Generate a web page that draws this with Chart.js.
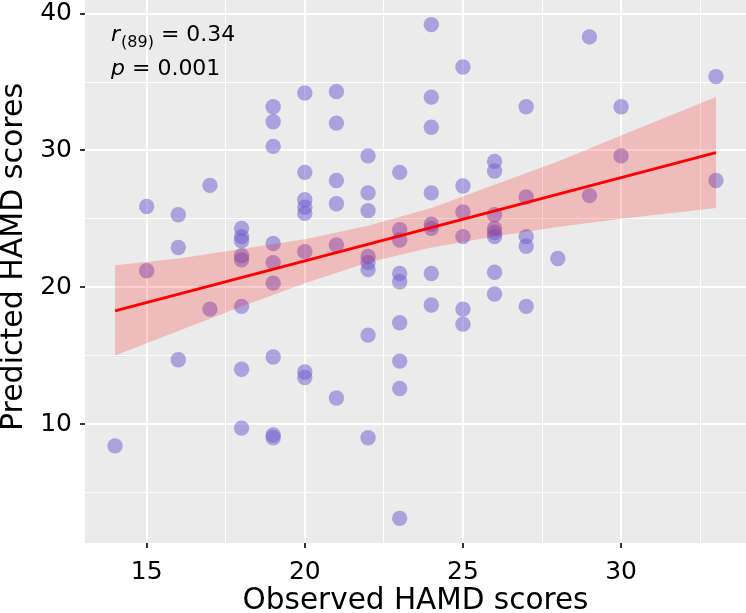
<!DOCTYPE html>
<html>
<head>
<meta charset="utf-8">
<script src="https://cdn.jsdelivr.net/npm/chart.js@4.4.1/dist/chart.umd.min.js"></script>
<style>
  body { margin: 0; background: #fff; }
  .chart-box { width: 746px; height: 613px; }
</style>
</head>
<body>
<div class="chart-box"><canvas id="myChart"></canvas></div>
<script>
// observed vs predicted HAMD, one entry per subject
const observedScores = [
  14,
  15, 15,
  16, 16, 16,
  17, 17,
  18, 18, 18, 18, 18, 18, 18, 18,
  19, 19, 19, 19, 19, 19, 19, 19, 19,
  20, 20, 20, 20, 20, 20, 20, 20,
  21, 21, 21, 21, 21, 21,
  22, 22, 22, 22, 22, 22, 22, 22,
  23, 23, 23, 23, 23, 23, 23, 23, 23,
  24, 24, 24, 24, 24, 24, 24, 24,
  25, 25, 25, 25, 25, 25,
  26, 26, 26, 26, 26, 26, 26, 26,
  27, 27, 27, 27, 27,
  28,
  29, 29,
  30, 30,
  33, 33,
];
const predictedScores = [
  8.4,
  25.9, 21.2,
  25.3, 22.9, 14.7,
  27.45, 18.4,
  24.3, 23.7, 23.4, 22.3, 22.0, 18.6, 14.0, 9.7,
  33.2, 32.1, 30.3, 23.2, 21.8, 20.3, 14.9, 9.2, 9.0,
  34.2, 28.4, 26.4, 25.85, 25.4, 22.6, 13.8, 13.4,
  34.3, 32.0, 27.8, 26.1, 23.1, 11.9,
  29.6, 26.9, 25.6, 22.25, 21.8, 21.3, 16.5, 9.0,
  28.4, 24.2, 23.45, 21.0, 20.4, 17.4, 14.6, 12.6, 3.1,
  39.2, 33.9, 31.7, 26.9, 24.6, 24.3, 21.0, 18.7,
  36.1, 27.4, 25.5, 23.7, 18.4, 17.3,
  29.2, 28.5, 25.3, 24.3, 24.0, 23.7, 21.1, 19.5,
  33.2, 26.6, 23.7, 23.0, 18.6,
  22.1,
  38.3, 26.7,
  33.2, 29.6,
  35.4, 27.8,
];

// fitted line and its confidence band
const fitX = [14, 33];
const fitY = [18.27, 29.84];
const bandX = [14, 16, 18, 20, 22, 24, 26, 28, 30, 33];
const bandLower = [15.0, 16.8, 18.6, 20.3, 21.8, 22.9, 23.7, 24.4, 25.0, 25.8];
const bandUpper = [21.6, 22.1, 22.8, 23.5, 24.5, 25.8, 27.5, 29.2, 31.1, 33.9];

// axes
const xGridValues = [15, 17.5, 20, 22.5, 25, 27.5, 30, 32.5];
const xTickLabels = [15, 20, 25, 30];
const yGridValues = [5, 10, 15, 20, 25, 30, 35, 40];
const yTickLabels = [10, 20, 30, 40];
const yTitle = "Predicted HAMD scores";

const FONT = "'DejaVu Sans', sans-serif";

const toPoints = (xs, ys) => xs.map((x, i) => ({ x: x, y: ys[i] }));

// gray panel behind everything
const panelBg = {
  id: "panelBg",
  beforeDraw(chart) {
    const { ctx, chartArea } = chart;
    ctx.save();
    ctx.fillStyle = "#EBEBEB";
    ctx.fillRect(chartArea.left, chartArea.top, chartArea.width, chartArea.height);
    ctx.restore();
  },
};

// r(89) = 0.34 / p = 0.001, plus the y title (sits a bit above centre in the original)
const textLayer = {
  id: "textLayer",
  afterDraw(chart) {
    const ctx = chart.ctx;
    ctx.save();
    ctx.fillStyle = "#000";
    ctx.textBaseline = "alphabetic";
    let x = 111;
    ctx.font = "italic 22px " + FONT;
    ctx.fillText("r", x, 41);
    x += ctx.measureText("r").width + 1;
    ctx.font = "16px " + FONT;
    ctx.fillText("(89)", x, 47);
    x += ctx.measureText("(89)").width;
    ctx.font = "22px " + FONT;
    ctx.fillText(" = 0.34", x, 41);

    x = 111;
    ctx.font = "italic 22px " + FONT;
    ctx.fillText("p", x, 75);
    x += ctx.measureText("p").width;
    ctx.font = "22px " + FONT;
    ctx.fillText(" = 0.001", x, 75);

    ctx.translate(14, 257);
    ctx.rotate(-Math.PI / 2);
    ctx.font = "30px " + FONT;
    ctx.textAlign = "center";
    ctx.textBaseline = "middle";
    ctx.fillText(yTitle, 0, 0);
    ctx.restore();
  },
};

function isMajor(list, value) {
  return list.some((v) => Math.abs(v - value) < 1e-6);
}

function noPadding(scale) {
  scale.paddingTop = 0;
  scale.paddingBottom = 0;
  scale.paddingLeft = 0;
  scale.paddingRight = 0;
}

const ctx = document.getElementById("myChart").getContext("2d");

new Chart(ctx, {
  type: "scatter",
  data: {
    datasets: [
      {
        type: "line",
        data: toPoints(fitX, fitY),
        borderColor: "#FF0000",
        borderWidth: 3,
        pointRadius: 0,
        showLine: true,
        fill: false,
      },
      {
        type: "line",
        data: toPoints(bandX, bandUpper),
        borderWidth: 0,
        borderColor: "rgba(0,0,0,0)",
        backgroundColor: "rgba(255, 0, 0, 0.2)",
        pointRadius: 0,
        showLine: true,
        fill: "+1",
      },
      {
        type: "line",
        data: toPoints(bandX, bandLower),
        borderWidth: 0,
        borderColor: "rgba(0,0,0,0)",
        pointRadius: 0,
        showLine: true,
        fill: false,
      },
      {
        type: "scatter",
        data: toPoints(observedScores, predictedScores),
        backgroundColor: "rgba(106, 90, 205, 0.5)",
        borderWidth: 0,
        pointRadius: 7.7,
        pointHoverRadius: 7.7,
      },
    ],
  },
  options: {
    responsive: true,
    maintainAspectRatio: false,
    animation: false,
    layout: { padding: 0, autoPadding: false },
    plugins: {
      legend: { display: false },
      tooltip: { enabled: false },
    },
    scales: {
      x: {
        type: "linear",
        min: 13.05,
        max: 33.95,
        afterBuildTicks: (scale) => {
          scale.ticks = xGridValues.map((v) => ({ value: v }));
        },
        afterFit: (scale) => {
          scale.height = 70;
          noPadding(scale);
        },
        border: { display: false },
        grid: {
          color: "#FFFFFF",
          lineWidth: (c) => (isMajor(xTickLabels, c.tick.value) ? 2 : 1),
          tickColor: (c) => (isMajor(xTickLabels, c.tick.value) ? "#333333" : "rgba(0,0,0,0)"),
          tickLength: 5,
        },
        ticks: {
          autoSkip: false,
          maxRotation: 0,
          padding: 9,
          color: "#000",
          font: { family: FONT, size: 25 },
          callback: (value) => (isMajor(xTickLabels, value) ? String(value) : ""),
        },
        title: {
          display: true,
          text: "Observed HAMD scores",
          color: "#000",
          font: { family: FONT, size: 29.5, lineHeight: 1 },
          padding: { top: 0, bottom: -3 },
        },
      },
      y: {
        type: "linear",
        min: 1.3,
        max: 41.0,
        afterBuildTicks: (scale) => {
          scale.ticks = yGridValues.map((v) => ({ value: v }));
        },
        afterFit: (scale) => {
          scale.width = 85;
          noPadding(scale);
        },
        border: { display: false },
        grid: {
          color: "#FFFFFF",
          lineWidth: (c) => (isMajor(yTickLabels, c.tick.value) ? 2 : 1),
          tickColor: (c) => (isMajor(yTickLabels, c.tick.value) ? "#333333" : "rgba(0,0,0,0)"),
          tickLength: 5,
        },
        ticks: {
          autoSkip: false,
          padding: 8,
          color: "#000",
          font: { family: FONT, size: 25 },
          callback: (value) => (isMajor(yTickLabels, value) ? String(value) : ""),
        },
        title: { display: false },
      },
    },
  },
  plugins: [panelBg, textLayer],
});
</script>
</body>
</html>
